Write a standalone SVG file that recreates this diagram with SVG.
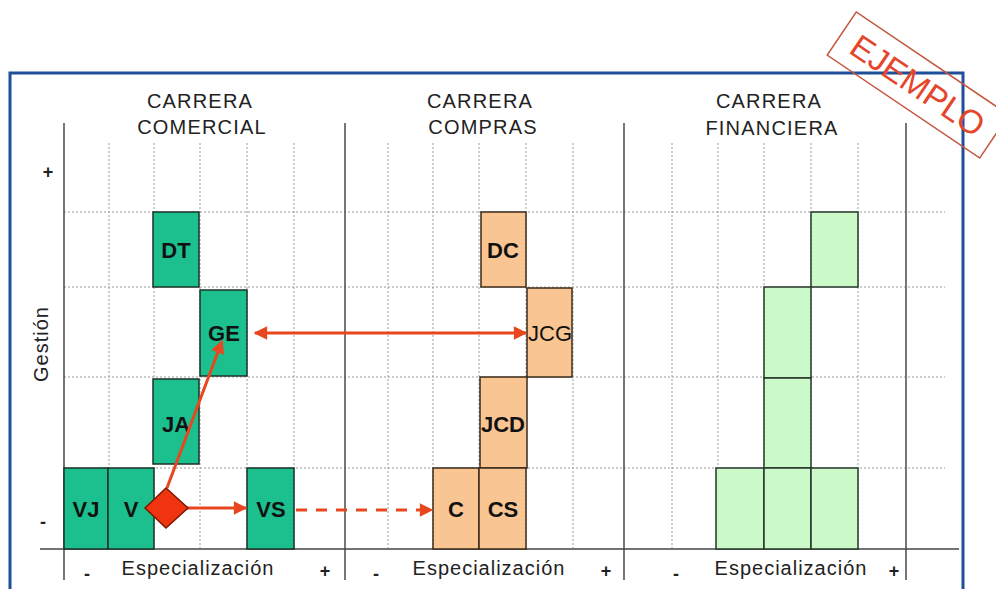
<svg xmlns="http://www.w3.org/2000/svg" width="996" height="589" viewBox="0 0 996 589">
<style>
text{font-family:"Liberation Sans",Arial,sans-serif;fill:#222}
.hdr{font-size:20px;text-anchor:middle;letter-spacing:1.2px}
.ax{font-size:20px;text-anchor:middle;letter-spacing:1px}
.sg{font-size:18px;font-weight:bold;text-anchor:middle}
.lbl{font-size:22px;font-weight:bold;text-anchor:middle;fill:#111}
.grid{stroke:#9a9a9a;stroke-width:1;stroke-dasharray:2 2;fill:none}
.sep{stroke:#555;stroke-width:1.6}
.g1{fill:#1cbf8e;stroke:#1b3326;stroke-width:1.5}
.g2{fill:#f9c592;stroke:#3a2a1a;stroke-width:1.5}
.g3{fill:#ccf9c8;stroke:#26352a;stroke-width:1.5}
.arr{stroke:#e8461e;stroke-width:3;fill:none}
</style>
<defs>
<marker id="ah" viewBox="0 0 10 10" refX="9" refY="5" markerWidth="5" markerHeight="4.5" orient="auto-start-reverse">
<path d="M0,0 L10,5 L0,10 z" fill="#e8461e"/>
</marker>
</defs>
<rect width="996" height="589" fill="#fff"/>
<rect x="10" y="73" width="953" height="540" fill="none" stroke="#1f4e9a" stroke-width="3"/>

<g id="grid">
<path class="grid" d="M64,212H945M64,287H945M64,377H945M64,468H945"/>
<path class="grid" d="M109,143V549M154,143V549M200,143V549M247,143V549M294,143V549M388,143V549M433,143V549M479,143V549M526,143V549M573,143V549M672,143V549M718,143V549M764,143V549M811,143V549M858,143V549"/>
<path class="sep" d="M64,123V580M345,123V580M624,123V580M906,123V580"/>
<path stroke="#444" stroke-width="1.6" d="M40,549H959"/>
</g>

<g id="headers">
<text class="hdr" x="200" y="108">CARRERA</text>
<text class="hdr" x="202" y="134">COMERCIAL</text>
<text class="hdr" x="480" y="108">CARRERA</text>
<text class="hdr" x="483" y="134">COMPRAS</text>
<text class="hdr" x="769" y="108">CARRERA</text>
<text class="hdr" x="772" y="135">FINANCIERA</text>
</g>

<g id="axes">
<text class="sg" x="48" y="178">+</text>
<text class="sg" x="43" y="528">-</text>
<text class="ax" font-size="22" transform="translate(48,344) rotate(-90)">Gestión</text>
<text class="sg" x="87" y="580">-</text>
<text class="ax" x="198" y="575">Especialización</text>
<text class="sg" x="325" y="577">+</text>
<text class="sg" x="376" y="580">-</text>
<text class="ax" x="489" y="575">Especialización</text>
<text class="sg" x="606" y="577">+</text>
<text class="sg" x="676" y="580">-</text>
<text class="ax" x="791" y="575">Especialización</text>
<text class="sg" x="894" y="577">+</text>
</g>

<g id="DT"><rect class="g1" x="153" y="212" width="46" height="75"/><text class="lbl" x="176" y="258">DT</text></g>
<g id="GE"><rect class="g1" x="200" y="290" width="47" height="86"/><text class="lbl" x="224" y="341">GE</text></g>
<g id="JA"><rect class="g1" x="153" y="379" width="46" height="85"/><text class="lbl" x="176" y="432">JA</text></g>
<g id="VJ"><rect class="g1" x="64" y="468" width="44" height="81"/><text class="lbl" x="86" y="517">VJ</text></g>
<g id="V"><rect class="g1" x="108" y="468" width="46" height="81"/><text class="lbl" x="131" y="517">V</text></g>
<g id="VS"><rect class="g1" x="247" y="468" width="47" height="81"/><text class="lbl" x="271" y="517">VS</text></g>

<g id="DC"><rect class="g2" x="481" y="212" width="45" height="75"/><text class="lbl" x="503" y="258">DC</text></g>
<g id="JCG"><rect class="g2" x="527" y="288" width="45" height="89"/><text class="lbl" x="550" y="341" style="font-weight:normal">JCG</text></g>
<g id="JCD"><rect class="g2" x="480" y="377" width="47" height="91"/><text class="lbl" x="503" y="432">JCD</text></g>
<g id="C"><rect class="g2" x="433" y="468" width="46" height="81"/><text class="lbl" x="456" y="517">C</text></g>
<g id="CS"><rect class="g2" x="479" y="468" width="47" height="81"/><text class="lbl" x="503" y="517">CS</text></g>

<g id="F1"><rect class="g3" x="811" y="212" width="47" height="75"/></g>
<g id="F2"><rect class="g3" x="764" y="287" width="47" height="91"/></g>
<g id="F3"><rect class="g3" x="764" y="378" width="47" height="90"/></g>
<g id="F4"><rect class="g3" x="716" y="468" width="48" height="81"/></g>
<g id="F5"><rect class="g3" x="764" y="468" width="47" height="81"/></g>
<g id="F6"><rect class="g3" x="811" y="468" width="47" height="81"/></g>

<g id="connectors">
<line class="arr" x1="167" y1="488" x2="222" y2="341" marker-end="url(#ah)"/>
<line class="arr" x1="186" y1="508" x2="246" y2="508" marker-end="url(#ah)"/>
<line class="arr" x1="255" y1="333" x2="526" y2="333" marker-start="url(#ah)" marker-end="url(#ah)"/>
<line class="arr" x1="296" y1="510" x2="432" y2="510" stroke-dasharray="11 9" marker-end="url(#ah)"/>
</g>
<g id="diamond"><polygon points="145,508 166,488 188,508 166,528" fill="#f0340f" stroke="#7a1a05" stroke-width="1.5"/></g>

<g id="stamp" transform="translate(918,85) rotate(34)">
<rect x="-92" y="-26" width="184" height="52" fill="none" stroke="#c4563e" stroke-width="1.5"/>
<text x="0" y="12" font-size="33" text-anchor="middle" style="fill:#e5452a">EJEMPLO</text>
</g>
</svg>
